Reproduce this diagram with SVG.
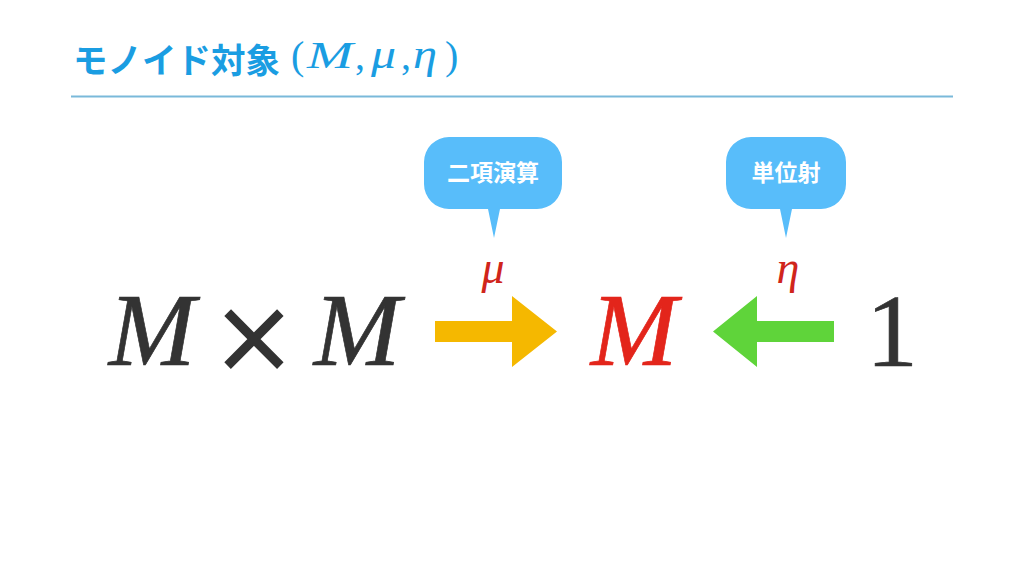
<svg xmlns="http://www.w3.org/2000/svg" width="1024" height="576" viewBox="0 0 1024 576">
<style>
.title{font-family:"Noto Sans CJK JP","Noto Sans",sans-serif;font-weight:bold;font-size:34.5px;fill:#1a9de2}
.tmath{font-family:"Liberation Serif",serif;font-size:40px;fill:#1a9de2}
.it{font-style:italic}
.bubble{fill:#58bdfa}
.btext{font-family:"Noto Sans CJK JP","Noto Sans",sans-serif;font-weight:bold;font-size:23px;fill:#ffffff;text-anchor:middle}
.big{font-family:"Liberation Serif",serif;font-size:104px;fill:#333333;stroke:#333333;stroke-width:0.7}
.red{fill:#e3251b;stroke:#e3251b}
.lbl{font-family:"Liberation Serif",serif;font-style:italic;font-size:46px;fill:#d0251b;text-anchor:middle}
</style>
<rect width="1024" height="576" fill="#ffffff"/>
<g id="title">
<text x="73" y="73" class="title">モノイド対象</text>
<text x="291" y="69" class="tmath">(</text>
<text x="307" y="68" class="tmath it" style="font-size:38px" textLength="46" lengthAdjust="spacingAndGlyphs">M</text>
<text x="355" y="69" class="tmath">,</text>
<text x="371" y="68" class="tmath it" textLength="25" lengthAdjust="spacingAndGlyphs">μ</text>
<text x="401" y="69" class="tmath">,</text>
<text x="413" y="68" class="tmath it" textLength="24" lengthAdjust="spacingAndGlyphs">η</text>
<text x="445" y="69" class="tmath">)</text>
<line x1="71" y1="96.5" x2="953" y2="96.5" stroke="#7ab9da" stroke-width="2"/>
</g>
<g id="bubble-binop">
<path class="bubble" d="M449,137 H537 A25,25 0 0 1 562,162 V184 A25,25 0 0 1 537,209 H500 L494,238 L488,209 H449 A25,25 0 0 1 424,184 V162 A25,25 0 0 1 449,137 Z"/>
<text x="493" y="181" class="btext">二項演算</text>
</g>
<g id="bubble-unit">
<path class="bubble" d="M751,137 H821 A25,25 0 0 1 846,162 V184 A25,25 0 0 1 821,209 H792 L786,238 L780,209 H751 A25,25 0 0 1 726,184 V162 A25,25 0 0 1 751,137 Z"/>
<text x="786" y="181" class="btext">単位射</text>
</g>
<g id="node-MxM">
<text x="152" y="365" class="big it" text-anchor="middle">M</text>
<text x="254" y="385" class="big" text-anchor="middle" style="font-size:137px;stroke-width:2.5">×</text>
<text x="357" y="365" class="big it" text-anchor="middle">M</text>
</g>
<g id="node-M">
<text x="634" y="365" class="big it red" text-anchor="middle">M</text>
</g>
<g id="node-1">
<text x="892" y="366" class="big" text-anchor="middle">1</text>
</g>
<g id="connectors">
<polygon points="435,321 512,321 512,296 557,331.5 512,367 512,342 435,342" fill="#f5b800"/>
<polygon points="834,321 757,321 757,296 713,331.5 757,367 757,342 834,342" fill="#5fd43a"/>
<text x="493" y="283" class="lbl">μ</text>
<text x="788" y="283" class="lbl">η</text>
</g>
</svg>
